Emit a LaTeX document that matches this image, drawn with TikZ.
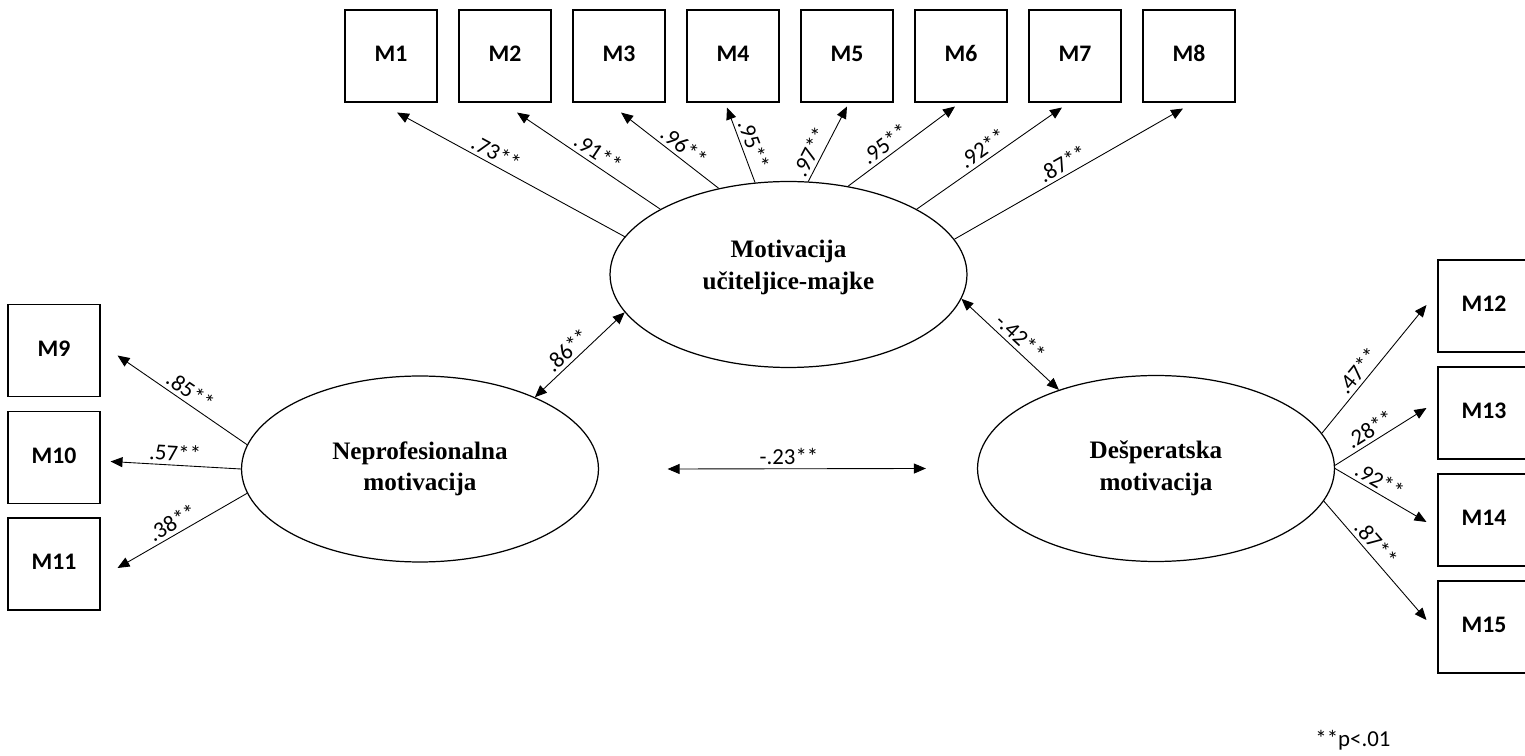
\documentclass[tikz,border=0pt]{standalone}
\usepackage{fontspec}
\setmainfont{Liberation Serif}
\newfontfamily\carlito{Carlito}
\usepackage{tikz}
\usetikzlibrary{shapes.geometric,arrows.meta}

\begin{document}
\begin{tikzpicture}[x=0.02cm,y=-0.02cm,
		manifest/.style={draw,line width=0.6pt,minimum width=1.84cm,minimum height=1.84cm,inner sep=0pt,text height=1.45ex,text depth=0pt,font=\carlito\bfseries\fontsize{13.5}{16}\selectfont},
		latent/.style={draw,shape=ellipse,line width=0.7pt,minimum width=7.14cm,minimum height=3.72cm,inner sep=0pt,align=center,font=\bfseries\fontsize{14.3}{18}\selectfont},
		load/.style={-{Triangle[length=0.24cm,width=0.2cm]},line width=0.5pt},
		corr/.style={{Triangle[length=0.24cm,width=0.2cm]}-{Triangle[length=0.24cm,width=0.2cm]},line width=0.5pt},
		coef/.style={sloped,above,inner sep=2pt,font=\carlito\fontsize{13}{15}\selectfont}]
		\useasboundingbox (0,0) rectangle (1525,756);

		\node[manifest] (M1) at (391,56) {M1};
		\node[manifest] (M2) at (505,56) {M2};
		\node[manifest] (M3) at (619,56) {M3};
		\node[manifest] (M4) at (733,56) {M4};
		\node[manifest] (M5) at (847,56) {M5};
		\node[manifest] (M6) at (961,56) {M6};
		\node[manifest] (M7) at (1075,56) {M7};
		\node[manifest] (M8) at (1189,56) {M8};
		\node[manifest] (M9) at (54,350.5) {M9};
		\node[manifest] (M10) at (54,457.5) {M10};
		\node[manifest] (M11) at (54,564) {M11};
		\node[manifest] (M12) at (1484,306) {M12};
		\node[manifest] (M13) at (1484,413) {M13};
		\node[manifest] (M14) at (1484,520) {M14};
		\node[manifest] (M15) at (1484,627) {M15};

		\node[latent] (um) at (788.5,274.5) {Motivacija\\učiteljice-majke\\[-7pt]\mbox{}};
		\node[latent] (np) at (420,469) {Neprofesionalna\\motivacija};
		\node[latent] (dm) at (1156,468.5) {Dešperatska\\motivacija};
		\node[font=\carlito\fontsize{13}{15}\selectfont] (note) at (1353,740) {**p<.01};

		\path [load] (um.167.2) edge node[coef,pos=.59] {.73**} ([shift={(6,10)}]M1.south);
		\path [load] (um.153.3) edge node[coef,pos=.48] {.91**} ([shift={(12,10)}]M2.south);
		\path [load] (um.129.2) edge node[coef,pos=.43] {.96**} ([shift={(2,10)}]M3.south);
		\path [load] (um.110.5) edge node[coef,pos=.45] {.95**} ([shift={(-6,5)}]M4.south);
		\path [load] (um.78.1) edge node[coef,pos=.32] {.97**} ([shift={(0,4)}]M5.south);
		\path [load] (um.56.1) edge node[coef,pos=.41] {.95**} ([shift={(-6,4)}]M6.south);
		\path [load] (um.27.5) edge node[coef,pos=.5] {.92**} ([shift={(-13,5)}]M7.south);
		\path [load] (um.12.4) edge node[coef,pos=.5] {.87**} ([shift={(-6,6)}]M8.south);

		\path [load] (np.172.1) edge node[coef,pos=.49] {.85**} ([shift={(17,5)}]M9.east);
		\path [load] (np.180) edge node[coef,pos=.51] {.57**} ([shift={(10,4)}]M10.east);
		\path [load] (np.188.2) edge node[coef,pos=.53] {.38**} ([shift={(17,4)}]M11.east);

		\path [load] (dm.12.3) edge node[coef,pos=.43] {.47**} ([shift={(-11,-1)}]M12.west);
		\path [load] (dm.1.1) edge node[coef,pos=.45] {.28**} ([shift={(-11,-5)}]M13.west);
		\path [load] (dm.-0.5) edge node[coef,pos=.42] {.92**} ([shift={(-11,2)}]M14.west);
		\path [load] (dm.-11.7) edge node[coef,pos=.42] {.87**} ([shift={(-11,-7)}]M15.west);

		\path [corr] (np.32.5) edge node[coef,pos=.45] {.86**} (um.193.5);
		\path [corr] (um.-8.7) edge node[coef,pos=.52] {-.42**} (dm.141.6);
		\path [corr] ([shift={(68.5,0)}]np.east) edge node[coef,pos=.47] {-.23**} ([shift={(-51,0)}]dm.west);
	\end{tikzpicture}
\end{document}
